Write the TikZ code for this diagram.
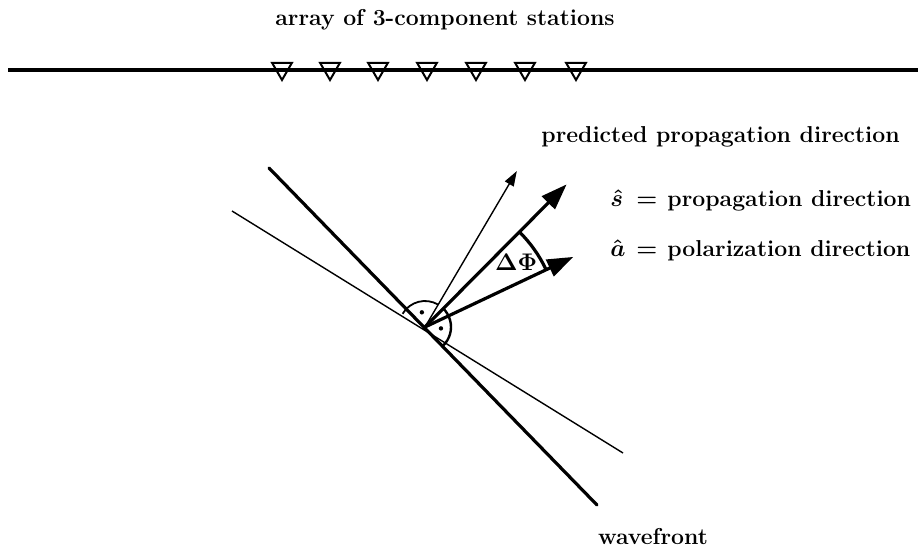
\documentclass[tikz,border=0pt]{standalone}
\usepackage{amsmath}
\usepackage{tikz}
\usetikzlibrary{arrows.meta, shapes.geometric, calc}

\begin{document}
\begin{tikzpicture}[
    x=0.5pt, y=0.5pt,
    txt/.style={font=\fontsize{11.5}{14}\selectfont\bfseries\boldmath, inner sep=0pt},
    station/.style={regular polygon, regular polygon sides=3, shape border rotate=180,
                    draw, line width=1pt, minimum size=11.5pt, inner sep=0pt},
    heavy/.style={line width=1.6pt, line cap=round},
    light/.style={line width=0.7pt},
    bigarrow/.style={heavy, line cap=butt, -{Triangle[length=13pt, width=9pt]}},
    smallarrow/.style={light, -{Triangle[length=7.5pt, width=5pt]}}
]
\useasboundingbox (0,0) rectangle (923,548);

\node[txt] (title) at (445,528) {array of 3-component stations};

\coordinate (gl) at (8,478);
\coordinate (gr) at (918,478);
\draw[heavy, line cap=butt] (gl) -- (gr);
\foreach \i/\x in {1/282,2/330,3/378,4/427,5/476,6/525,7/576}
    \node[station] (st\i) at (\x,479.5) {};

\coordinate (O) at (425,221);
\coordinate (wftop) at (269,380);
\coordinate (wfbot) at (597,43);
\coordinate (pltop) at (232,337);
\coordinate (plbot) at (623,95);
\draw[heavy] (wftop) -- (wfbot);
\draw[light] (pltop) -- (plbot);

\coordinate (ptip) at ([shift={(59.5:181)}]O);
\coordinate (stip) at ([shift={(45.2:201)}]O);
\coordinate (atip) at ([shift={(25.3:164)}]O);
\draw[smallarrow] (O) -- (ptip);
\draw[bigarrow] (O) -- (stip);
\draw[bigarrow] (O) -- (atip);

\draw[heavy, line cap=butt] ([shift={(25.3:134)}]O) arc[start angle=25.3, end angle=45.2, radius=134];
\node[txt] (dphi) at ([shift={(35.6:112)}]O) {$\Delta\Phi$};

\draw[line width=0.9pt] ([shift={(59.5:26)}]O) arc[start angle=59.5, end angle=149.5, radius=26];
\fill ([shift={(102:15)}]O) circle[radius=2.2];
\draw[line width=1.2pt] ([shift={(-45.7:26)}]O) arc[start angle=-45.7, end angle=45.2, radius=26];
\fill ([shift={(-5:16)}]O) circle[radius=2.2];

\node[txt, anchor=west] (pred) at (541,411) {predicted propagation direction};
\node[txt, anchor=base west] (ssym) at (610,342) {$\hat{s}$};
\node[txt, anchor=base west] (sdef) at (636,342) {$=$\hspace{5pt}propagation direction};
\node[txt, anchor=base west] (asym) at (610,292) {$\hat{a}$};
\node[txt, anchor=base west] (adef) at (636,292) {$=$\hspace{5pt}polarization direction};
\node[txt] (wf) at (653,11) {wavefront};

\end{tikzpicture}
\end{document}
